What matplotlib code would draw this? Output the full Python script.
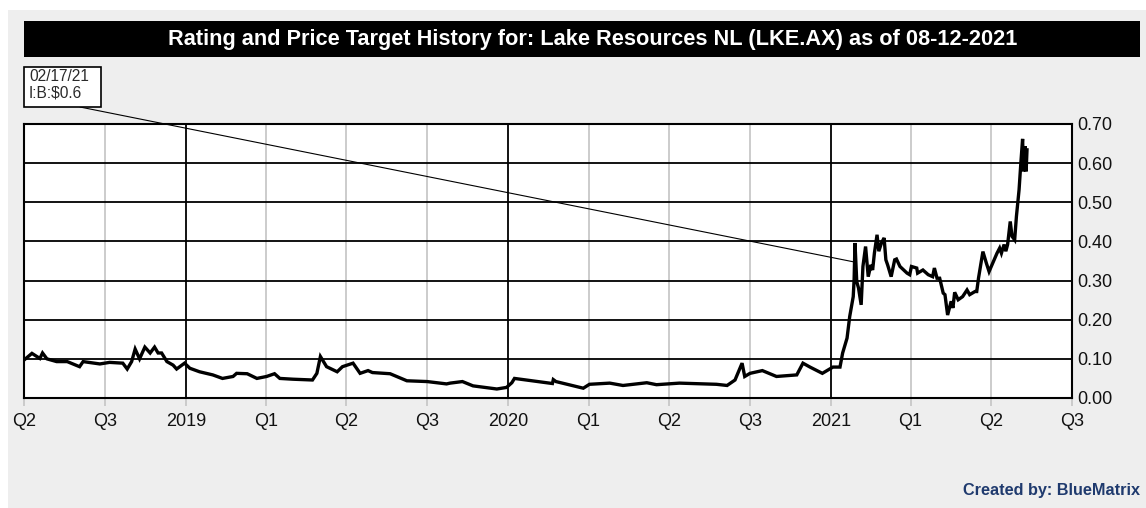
import matplotlib
matplotlib.use("Agg")
import matplotlib.pyplot as plt
from matplotlib.patches import Rectangle
import pandas as pd

plt.rcParams['font.family'] = ['Liberation Sans', 'DejaVu Sans']

title = "Rating and Price Target History for: Lake Resources NL (LKE.AX) as of 08-12-2021"
credit = "Created by: BlueMatrix"

dates = [
    "2018-07-01", "2018-07-10", "2018-07-19", "2018-07-22", "2018-07-27", "2018-08-07",
    "2018-08-19", "2018-09-02", "2018-09-06", "2018-09-25", "2018-10-06", "2018-10-21",
    "2018-10-26", "2018-10-31", "2018-11-04", "2018-11-09", "2018-11-15", "2018-11-21",
    "2018-11-26", "2018-11-30", "2018-12-04", "2018-12-10", "2018-12-17", "2018-12-21",
    "2018-12-30", "2019-01-05", "2019-01-16", "2019-01-31", "2019-02-11", "2019-02-23",
    "2019-02-27", "2019-03-11", "2019-03-22", "2019-04-02", "2019-04-11", "2019-04-17",
    "2019-05-02", "2019-05-24", "2019-05-29", "2019-06-02", "2019-06-09", "2019-06-21",
    "2019-06-27", "2019-07-09", "2019-07-17", "2019-07-26", "2019-07-31", "2019-08-20",
    "2019-09-08", "2019-10-01", "2019-10-23", "2019-10-27", "2019-11-10", "2019-11-22",
    "2019-12-19", "2019-12-30", "2020-01-05", "2020-01-08", "2020-02-20", "2020-02-21",
    "2020-02-24", "2020-03-26", "2020-04-02", "2020-04-25", "2020-05-10", "2020-06-06",
    "2020-06-17", "2020-07-13", "2020-08-24", "2020-09-05", "2020-09-14", "2020-09-22",
    "2020-09-25", "2020-10-01", "2020-10-15", "2020-10-31", "2020-11-23", "2020-11-30",
    "2020-12-08", "2020-12-22", "2021-01-03", "2021-01-11", "2021-01-14", "2021-01-19",
    "2021-01-22", "2021-01-26", "2021-01-27", "2021-01-28", "2021-01-30", "2021-02-01",
    "2021-02-04", "2021-02-06", "2021-02-09", "2021-02-12", "2021-02-15", "2021-02-17",
    "2021-02-19", "2021-02-22", "2021-02-24", "2021-02-27", "2021-03-02", "2021-03-04",
    "2021-03-06", "2021-03-10", "2021-03-14", "2021-03-16", "2021-03-20", "2021-03-28",
    "2021-03-31", "2021-04-02", "2021-04-08", "2021-04-09", "2021-04-15", "2021-04-21",
    "2021-04-26", "2021-04-28", "2021-05-01", "2021-05-04", "2021-05-08", "2021-05-10",
    "2021-05-13", "2021-05-17", "2021-05-19", "2021-05-21", "2021-05-25", "2021-05-30",
    "2021-06-04", "2021-06-07", "2021-06-13", "2021-06-15", "2021-06-17", "2021-06-22",
    "2021-06-26", "2021-06-29", "2021-07-03", "2021-07-08", "2021-07-11", "2021-07-13",
    "2021-07-16", "2021-07-18", "2021-07-20", "2021-07-23", "2021-07-25", "2021-07-28",
    "2021-07-30", "2021-08-02", "2021-08-04", "2021-08-06", "2021-08-07", "2021-08-09",
    "2021-08-10", "2021-08-11",
]
prices = [
    0.097, 0.114, 0.101, 0.115, 0.100, 0.093,
    0.093, 0.080, 0.093, 0.087, 0.091, 0.089,
    0.074, 0.093, 0.125, 0.100, 0.130, 0.115,
    0.130, 0.115, 0.115, 0.093, 0.084, 0.074,
    0.089, 0.076, 0.067, 0.059, 0.050, 0.055,
    0.063, 0.062, 0.050, 0.055, 0.062, 0.050,
    0.048, 0.046, 0.063, 0.106, 0.080, 0.067,
    0.080, 0.089, 0.063, 0.070, 0.065, 0.062,
    0.044, 0.042, 0.036, 0.038, 0.042, 0.031,
    0.023, 0.027, 0.039, 0.050, 0.037, 0.047,
    0.042, 0.025, 0.035, 0.038, 0.032, 0.039,
    0.034, 0.038, 0.035, 0.032, 0.046, 0.089,
    0.055, 0.063, 0.070, 0.055, 0.059, 0.089,
    0.079, 0.063, 0.079, 0.079, 0.115, 0.153,
    0.208, 0.259, 0.302, 0.396, 0.297, 0.281,
    0.238, 0.336, 0.387, 0.310, 0.340, 0.327,
    0.370, 0.417, 0.375, 0.396, 0.409, 0.353,
    0.340, 0.310, 0.353, 0.355, 0.336, 0.319,
    0.315, 0.336, 0.332, 0.319, 0.327, 0.315,
    0.310, 0.332, 0.306, 0.306, 0.268, 0.264,
    0.212, 0.247, 0.230, 0.270, 0.251, 0.259,
    0.276, 0.264, 0.272, 0.272, 0.306, 0.374,
    0.344, 0.323, 0.344, 0.370, 0.383, 0.370,
    0.392, 0.375, 0.392, 0.451, 0.413, 0.404,
    0.464, 0.532, 0.600, 0.662, 0.579, 0.643,
    0.579, 0.634,
]

tick_dates = ["2018-07-01", "2018-10-01", "2019-01-01", "2019-04-01", "2019-07-01",
              "2019-10-01", "2020-01-01", "2020-04-01", "2020-07-01", "2020-10-01",
              "2021-01-01", "2021-04-01", "2021-07-01", "2021-10-01"]
tick_labels = ["Q2", "Q3", "2019", "Q1", "Q2", "Q3", "2020", "Q1", "Q2", "Q3",
               "2021", "Q1", "Q2", "Q3"]
year_dates = ["2019-01-01", "2020-01-01", "2021-01-01"]
y_ticks = [0.0, 0.1, 0.2, 0.3, 0.4, 0.5, 0.6, 0.7]

ann_text = "02/17/21\nI:B:$0.6"
ann_date = "2021-01-26"
ann_value = 0.348

W, H = 1146, 508
fig = plt.figure(figsize=(W / 100, H / 100), dpi=100, facecolor="white")

# gray panel
fig.patches.append(Rectangle((8 / W, 0), 1 - 8 / W, 1 - 10 / H, transform=fig.transFigure,
                             facecolor="#eeeeee", edgecolor="none", zorder=-5))
# title bar
fig.patches.append(Rectangle((24 / W, 1 - 57 / H), (1140 - 24) / W, 36 / H,
                             transform=fig.transFigure, facecolor="black",
                             edgecolor="none", zorder=-4))
fig.text(592.5 / W, 1 - 39.5 / H, title, color="white", fontsize=15.7,
         fontweight="bold", ha="center", va="center")
fig.text(1140 / W, 1 - 491 / H, credit, color="#1f3a6e", fontsize=11.7,
         fontweight="bold", ha="right", va="center")

ax = fig.add_axes([24 / W, 1 - 398 / H, (1072 - 24) / W, (398 - 124) / H])
ax.set_facecolor("white")

x = pd.to_datetime(dates)
tx = pd.to_datetime(tick_dates)
yd = pd.to_datetime(year_dates)
ax.set_xlim(tx[0], tx[-1])
ax.set_ylim(0, 0.7)

for d in tx:
    if d in yd:
        ax.axvline(d, color="black", lw=1.3, zorder=1)
    else:
        ax.axvline(d, color="#c4c4c4", lw=1.2, zorder=1)
for v in y_ticks[1:-1]:
    ax.axhline(v, color="black", lw=1.3, zorder=1)

ax.plot(x, prices, color="black", lw=2.4, zorder=3, solid_joinstyle="miter")

ax.set_xticks(tx)
ax.set_xticklabels(tick_labels)
ax.yaxis.tick_right()
ax.set_yticks(y_ticks)
ax.set_yticklabels([f"{v:.2f}" for v in y_ticks])
ax.tick_params(axis="both", labelsize=13, labelcolor="#111111", length=6, width=1.2)
ax.tick_params(axis="x", color="#c4c4c4", pad=5)
ax.tick_params(axis="y", pad=4, length=0)
for d, t in zip(tx, ax.xaxis.get_major_ticks()):
    if d in yd:
        t.tick1line.set_color("black")
for s in ax.spines.values():
    s.set_linewidth(1.5)
    s.set_color("black")

# annotation box with leader line
box_l, box_t, box_r, box_b = 24, 67, 101, 107
fig.patches.append(Rectangle((box_l / W, 1 - box_b / H), (box_r - box_l) / W,
                             (box_b - box_t) / H, transform=fig.transFigure,
                             facecolor="white", edgecolor="black", lw=1.2, zorder=6))
ax.annotate("", xy=(pd.Timestamp(ann_date), ann_value), xycoords="data",
            xytext=(80 / W, 1 - box_b / H), textcoords="figure fraction",
            arrowprops=dict(arrowstyle="-", color="black", lw=0.8, shrinkA=0, shrinkB=0),
            annotation_clip=False, zorder=5)
fig.text(29 / W, 1 - 69 / H, ann_text, fontsize=11.2, color="#2a2a2a", ha="left",
         va="top", linespacing=1.12, zorder=7)

fig.savefig("out.png", dpi=100, facecolor="white")
